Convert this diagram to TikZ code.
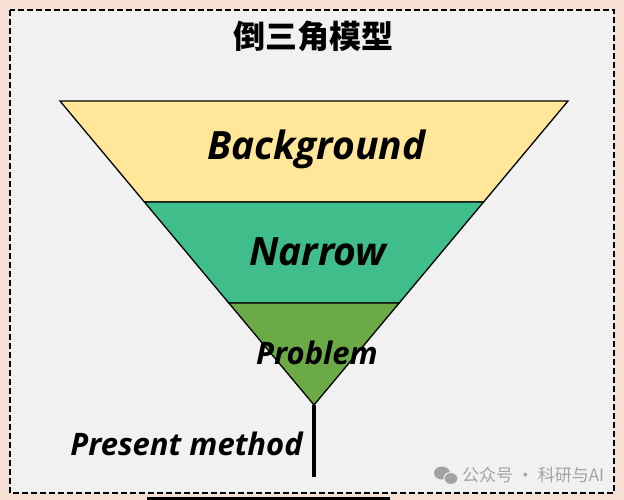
\documentclass[tikz,border=0pt]{standalone}
\usepackage{fontspec}
\setmainfont{Open Sans}
\newfontfamily\cjk{Noto Sans CJK SC}
\usetikzlibrary{positioning}
\definecolor{peach}{HTML}{F6E0D3}
\definecolor{panel}{HTML}{F1F1F1}
\definecolor{layerA}{HTML}{FFE699}
\definecolor{layerB}{HTML}{3FBD8A}
\definecolor{layerC}{HTML}{6BAA47}
\definecolor{wmgray}{HTML}{A3A3A3}

\begin{document}
\begin{tikzpicture}[x=1pt, y=-1pt,
  layer/.style={draw=black, line width=1.3pt, line join=miter},
  tag/.style={font=\bfseries\itshape\fontsize{#1}{#1}\selectfont, inner sep=0pt, anchor=base}]

\fill[peach] (0,0) rectangle (624,500);
\useasboundingbox (0,0) rectangle (624,500);
\fill[panel] (10,10) rectangle (614,493);
\draw[dash pattern=on 6pt off 3pt, line width=1.3pt] (10,10) rectangle (614,493);
\fill[black] (147,497) rectangle (390,500);

\node[font=\cjk\bfseries\fontsize{32}{32}\selectfont, inner sep=0pt] (title) at (313,36) {倒三角模型};

\coordinate (tl) at (60,101);
\coordinate (tr) at (568,101);
\coordinate (l1) at (144.4,202);
\coordinate (r1) at (483.6,202);
\coordinate (l2) at (228.8,303);
\coordinate (r2) at (399.2,303);
\coordinate (apex) at (314,405);
\coordinate (foot) at (314,477);

\filldraw[layer, fill=layerA] (tl) -- (tr) -- (r1) -- (l1) -- cycle;
\filldraw[layer, fill=layerB] (l1) -- (r1) -- (r2) -- (l2) -- cycle;
\filldraw[layer, fill=layerC] (l2) -- (r2) -- (apex) -- cycle;

\node[tag=39] (bg) at (316.5,160) {Background};
\node[tag=39] (nar) at (318,265) {Narrow};
\node[tag=31] (prob) at (317,364) {Problem};

\draw[line width=3.5pt] (apex) -- (foot);
\node[tag=31, anchor=base east] (pm) at (303,455) {Present method};

\node[font=\cjk\fontsize{17}{17}\selectfont, text=wmgray, anchor=west, inner sep=0pt] (wm) at (462,475) {公众号 · 科研与AI};
\fill[wmgray] (442,473) ellipse (8 and 6.5);
\fill[wmgray, draw=panel, line width=1pt] (451,478.5) ellipse (7 and 6);

\end{tikzpicture}
\end{document}
